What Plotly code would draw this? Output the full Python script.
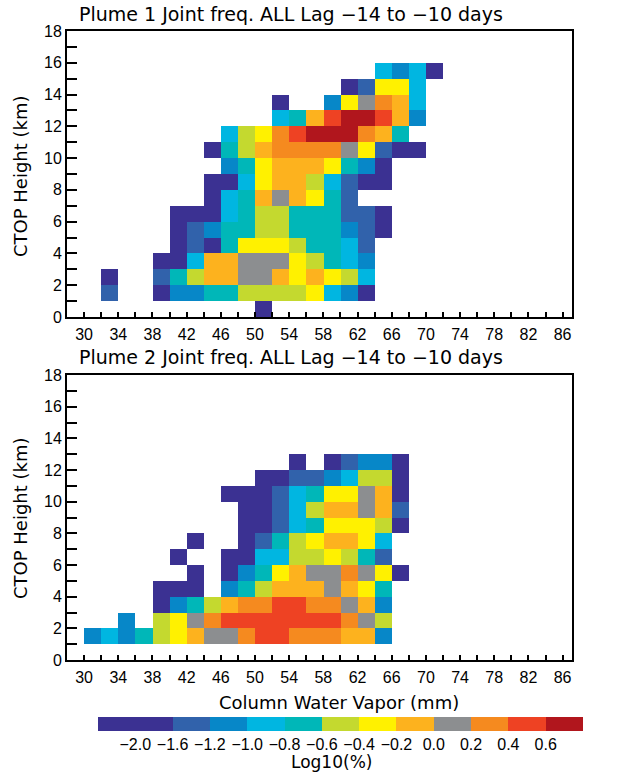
import plotly.graph_objects as go

# ---------------- data ----------------
# colour classes of log10(%) (class index 1..12)
class_labels = ["\u22122.0", "\u22121.6", "\u22121.2", "\u22121.0", "\u22120.8", "\u22120.6",
                "\u22120.4", "\u22120.2", "0.0", "0.2", "0.4", "0.6"]
class_colors = ["#3b3192", "#3162ab", "#0787c8", "#00b6e1", "#00b7b8", "#c4d92f",
                "#fff100", "#fdb21e", "#8c8e90", "#f58a1f", "#ee4223", "#b1161d"]

# column lower edges of water vapour bins (mm) and height bins (km)
cwv_bins = list(range(28, 88, 2))
ctop_bins = list(range(0, 18))

x_tick_vals = list(range(28, 88, 2))
x_tick_labels = [str(v) if (v - 30) % 4 == 0 and v >= 30 else "" for v in x_tick_vals]
y_tick_vals = list(range(0, 19))
y_tick_labels = [str(v) if v % 2 == 0 else "" for v in y_tick_vals]

# rows: (height bin lower edge, first CWV bin, class codes; 0 = no data)
plume1_rows = [
    (15, 64, [4, 3, 4, 1]),
    (14, 60, [1, 2, 7, 7, 4]),
    (13, 52, [1, 0, 0, 3, 7, 9, 10, 8, 4]),
    (12, 52, [4, 5, 8, 11, 12, 12, 11, 8, 3]),
    (11, 46, [4, 6, 7, 10, 11, 12, 12, 12, 10, 8, 5]),
    (10, 44, [1, 5, 6, 8, 10, 10, 10, 10, 9, 7, 2, 1, 1]),
    (9, 46, [3, 5, 7, 8, 8, 8, 7, 5, 3, 1]),
    (8, 44, [1, 1, 4, 7, 8, 8, 6, 4, 2, 1, 1]),
    (7, 44, [1, 4, 5, 8, 9, 8, 7, 5, 2]),
    (6, 40, [1, 1, 1, 4, 5, 6, 6, 5, 5, 5, 2, 2, 1]),
    (5, 40, [1, 2, 3, 5, 5, 6, 6, 5, 5, 5, 3, 2, 1]),
    (4, 40, [1, 2, 1, 5, 7, 7, 7, 6, 5, 5, 4, 2]),
    (3, 38, [1, 1, 4, 8, 8, 9, 9, 9, 7, 6, 5, 4, 3]),
    (2, 32, [1, 0, 0, 2, 5, 6, 8, 8, 9, 9, 8, 7, 8, 7, 6, 4]),
    (1, 32, [2, 0, 0, 1, 3, 3, 5, 5, 6, 6, 6, 6, 7, 4, 3, 1]),
    (0, 50, [1]),
]

plume2_rows = [
    (12, 54, [1, 0, 1, 2, 3, 3, 1]),
    (11, 50, [1, 1, 2, 2, 3, 4, 6, 6, 1]),
    (10, 46, [1, 1, 1, 2, 4, 5, 7, 7, 9, 8, 1]),
    (9, 48, [1, 1, 2, 4, 6, 8, 8, 9, 8, 2]),
    (8, 48, [1, 1, 2, 4, 5, 7, 7, 7, 6, 1]),
    (7, 42, [1, 0, 0, 1, 2, 5, 6, 7, 8, 8, 7, 4]),
    (6, 40, [1, 0, 0, 1, 1, 4, 4, 6, 6, 7, 6, 5, 2]),
    (5, 42, [1, 0, 1, 3, 5, 7, 8, 9, 9, 10, 9, 7, 1]),
    (4, 38, [1, 1, 1, 0, 3, 5, 6, 8, 8, 8, 9, 8, 7, 5]),
    (3, 38, [1, 3, 5, 6, 8, 10, 10, 11, 11, 10, 10, 9, 8, 3]),
    (2, 34, [3, 0, 6, 7, 9, 10, 11, 11, 11, 11, 11, 11, 11, 10, 9, 6]),
    (1, 30, [3, 4, 3, 5, 6, 7, 8, 9, 9, 10, 11, 11, 10, 10, 10, 8, 8, 3]),
]

titles = ["Plume 1 Joint freq. ALL Lag \u221214 to \u221210 days",
          "Plume 2 Joint freq. ALL Lag \u221214 to \u221210 days"]
y_title = "CTOP Height (km)"
x_title = "Column Water Vapor (mm)"
cbar_title = "Log10(%)"

# colourbar segment edges (first class is double width)
cbar_edges = [0, 2, 3, 4, 5, 6, 7, 8, 9, 10, 11, 12, 13]
cbar_label_pos = [1, 2, 3, 4, 5, 6, 7, 8, 9, 10, 11, 12]


# ---------------- build ----------------
def build_grid(rows):
    grid = [[None for _ in cwv_bins] for _ in ctop_bins]
    for ylo, xstart, codes in rows:
        for k, c in enumerate(codes):
            if c:
                xi = cwv_bins.index(xstart + 2 * k)
                grid[ctop_bins.index(ylo)][xi] = c
    return grid


n = len(class_colors)
colorscale = []
for i, col in enumerate(class_colors):
    colorscale.append([i / n, col])
    colorscale.append([(i + 1) / n, col])

x_centers = [v + 1 for v in cwv_bins]
y_centers = [v + 0.5 for v in ctop_bins]

fig = go.Figure()
for idx, rows in enumerate([plume1_rows, plume2_rows]):
    ax = "" if idx == 0 else "2"
    fig.add_trace(go.Heatmap(
        x=x_centers, y=y_centers, z=build_grid(rows),
        colorscale=colorscale, zmin=0.5, zmax=n + 0.5, showscale=False,
        xaxis="x" + ax, yaxis="y" + ax, hoverongaps=False))

fig.add_trace(go.Heatmap(
    x=cbar_edges, y=[0, 1], z=[list(range(1, n + 1))],
    colorscale=colorscale, zmin=0.5, zmax=n + 0.5, showscale=False,
    xaxis="x3", yaxis="y3"))

W, H = 618, 774
L, R = 67, 30
pw = W - L - R


def xp(px):
    return (px - L) / pw


def xd(px0, px1):
    return [xp(px0), xp(px1)]


def yp(py):
    return 1 - py / H


def yd(py_top, py_bot):
    return [yp(py_bot), yp(py_top)]


tick_font = dict(family="Liberation Sans", size=16, color="black")
label_font = dict(family="DejaVu Sans", size=18, color="black")
cbar_title_font = dict(family="DejaVu Sans", size=17, color="black")

common_x = dict(range=[28, 87.1], tickmode="array", tickvals=x_tick_vals, ticktext=x_tick_labels,
                ticks="inside", ticklen=5, tickwidth=1.5, tickcolor="black",
                showline=True, linecolor="black", linewidth=2, mirror=True, automargin=False,
                showgrid=False, zeroline=False, tickfont=tick_font, ticklabelstandoff=2)
common_y = dict(range=[0, 18], tickmode="array", tickvals=y_tick_vals, ticktext=y_tick_labels,
                ticks="inside", ticklen=10, tickwidth=1.5, tickcolor="black",
                showline=True, linecolor="black", linewidth=2, mirror=True, automargin=False,
                showgrid=False, zeroline=False, tickfont=tick_font, ticklabelstandoff=0)

fig.update_layout(
    width=W, height=H, margin=dict(l=L, r=R, t=0, b=0),
    paper_bgcolor="white", plot_bgcolor="white", showlegend=False,
    xaxis=dict(common_x, domain=xd(67, 572), anchor="y"),
    yaxis=dict(common_y, domain=yd(31, 317), anchor="x"),
    xaxis2=dict(common_x, domain=xd(67, 572), anchor="y2"),
    yaxis2=dict(common_y, domain=yd(375, 660), anchor="x2"),
    xaxis3=dict(domain=xd(98, 583), anchor="y3", range=[0, 13], showgrid=False, zeroline=False,
                showline=False, ticks="", tickmode="array", tickvals=cbar_label_pos, automargin=False,
                ticktext=class_labels, tickfont=tick_font, ticklabelstandoff=2),
    yaxis3=dict(domain=yd(717, 731), anchor="x3", range=[0, 1], showgrid=False, zeroline=False,
                showline=False, showticklabels=False, ticks="", automargin=False),
)

for t, ypx in zip(titles, [14, 357]):
    fig.add_annotation(text=t, xref="paper", yref="paper", x=xp(291), y=yp(ypx),
                       xanchor="center", yanchor="middle", showarrow=False,
                       font=dict(family="DejaVu Sans", size=19, color="black"))

for ypx in [176, 518]:
    fig.add_annotation(text=y_title, xref="paper", yref="paper", x=xp(20), y=yp(ypx),
                       xanchor="center", yanchor="middle", showarrow=False, textangle=-90,
                       font=label_font)

fig.add_annotation(text=x_title, xref="paper", yref="paper", x=xp(339), y=yp(702),
                   xanchor="center", yanchor="middle", showarrow=False, font=label_font)
fig.add_annotation(text=cbar_title, xref="paper", yref="paper", x=xp(331), y=yp(762),
                   xanchor="center", yanchor="middle", showarrow=False, font=cbar_title_font)

fig.write_html("out.html", config={"displayModeBar": False},
               post_script="document.body.style.margin='0';document.body.style.overflow='hidden';")
